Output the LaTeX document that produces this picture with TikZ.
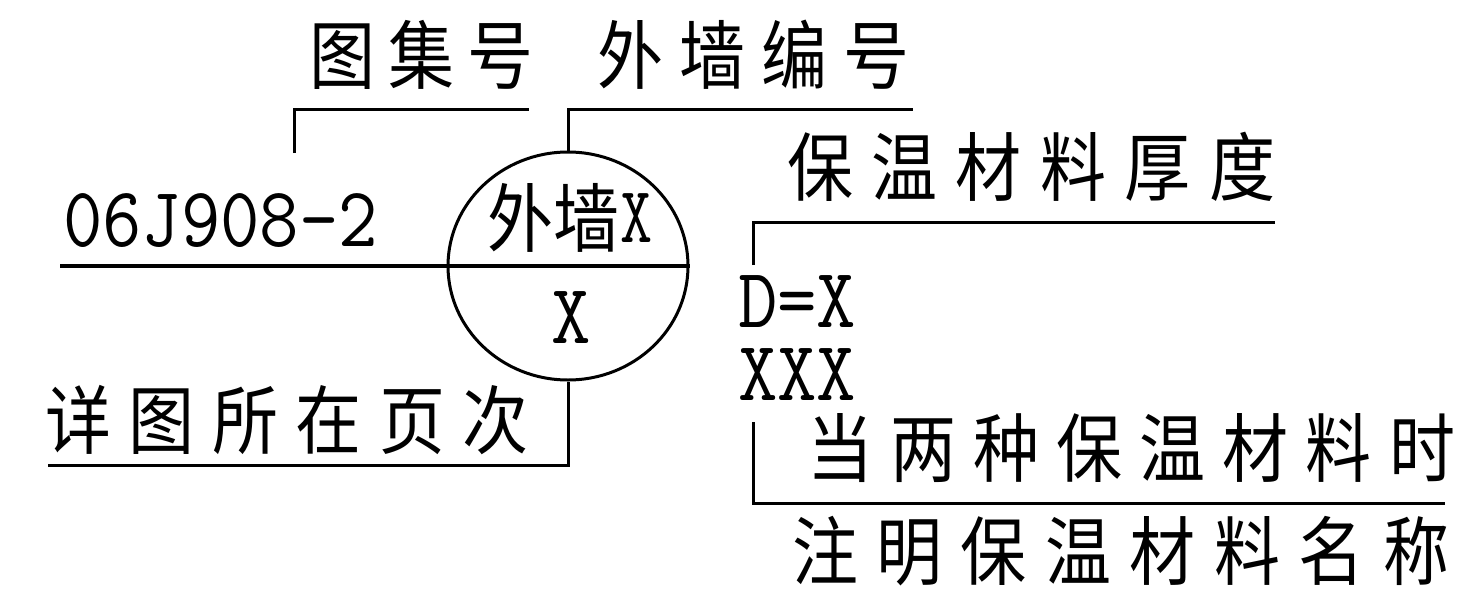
\documentclass[tikz,border=0pt]{standalone}
\usepackage{fontspec}
\newfontfamily\cjk{Noto Sans CJK SC}
\usetikzlibrary{shapes.geometric}
\makeatletter
\newcommand\spaced[2]{\def\sp@k{\kern#1pt}\sp@first#2\@nil}
\def\sp@first#1{#1\sp@next}
\def\sp@next#1{\ifx#1\@nil\else\sp@k#1\expandafter\sp@next\fi}
\makeatother
\newcommand\cs[2]{\scalebox{0.88}[1]{\spaced{#1}{#2}}}
\begin{document}
\begin{tikzpicture}[x=1pt,y=-1pt,
  lbl/.style={inner sep=0pt, outer sep=0pt, anchor=west, font={\cjk\fontsize{75}{80}\selectfont}},
  lat/.style={inner sep=0pt, outer sep=0pt, anchor=base west, font={\ttfamily\fontsize{85}{73}\selectfont}},
  ln/.style={line width=3pt, line cap=butt, line join=miter}]
\useasboundingbox (0,0) rectangle (1482,594);
% texts
\node[lbl] (t1) at (309,55) {\cs{15}{图集号}};
\node[lbl] (t2) at (597,55) {\cs{18.5}{外墙编号}};
\node[lbl] (t3) at (787,167) {\cs{21}{保温材料厚度}};
\node[lbl] (t4) at (807,448) {\cs{19.5}{当两种保温材料时}};
\node[lbl] (t5) at (792,551) {\cs{21}{注明保温材料名称}};
\node[lbl] (t6) at (45,420) {\cs{20}{详图所在页次}};
\node[lat] (code) at (63,246) {\scalebox{0.9}[1]{06J908-2}};
\node[lat, align=left] (dx) at (738,400) {\scalebox{0.9}[1]{D=X}\\\scalebox{0.9}[1]{XXX}};
% circle
\node[draw, ellipse, line width=3pt, minimum width=240pt, minimum height=228pt, inner sep=0pt] (c) at (568,266) {};
\node[lbl] (ct) at (487,218) {\scalebox{0.88}[1]{外墙}\kern1pt{\ttfamily\fontsize{80}{80}\selectfont\raisebox{4pt}{\scalebox{0.78}[1]{X}}}};
\node[lat, anchor=base] (cx) at (571,343) {\scalebox{0.9}[1]{X}};
% connector points
\coordinate (a0) at (294,153); \coordinate (a1) at (294,109); \coordinate (a2) at (529,109);
\coordinate (b1) at (568,109); \coordinate (b2) at (913,109);
\coordinate (m0) at (60,266);
\coordinate (d1) at (568,465); \coordinate (d2) at (48,465);
\coordinate (e0) at (753,265); \coordinate (e1) at (753,222); \coordinate (e2) at (1275,222);
\coordinate (f0) at (753,422); \coordinate (f1) at (753,503); \coordinate (f2) at (1445,503);
% connectors
\draw[ln] (a0) -- (a1) -- (a2);
\draw[ln] (c.north) -- (b1) -- (b2);
\draw[ln, line width=3.5pt] (m0) -- (c.east);
\draw[ln] (c.south) -- (d1) -- (d2);
\draw[ln] (e0) -- (e1) -- (e2);
\draw[ln] (f0) -- (f1) -- (f2);
\end{tikzpicture}
\end{document}
